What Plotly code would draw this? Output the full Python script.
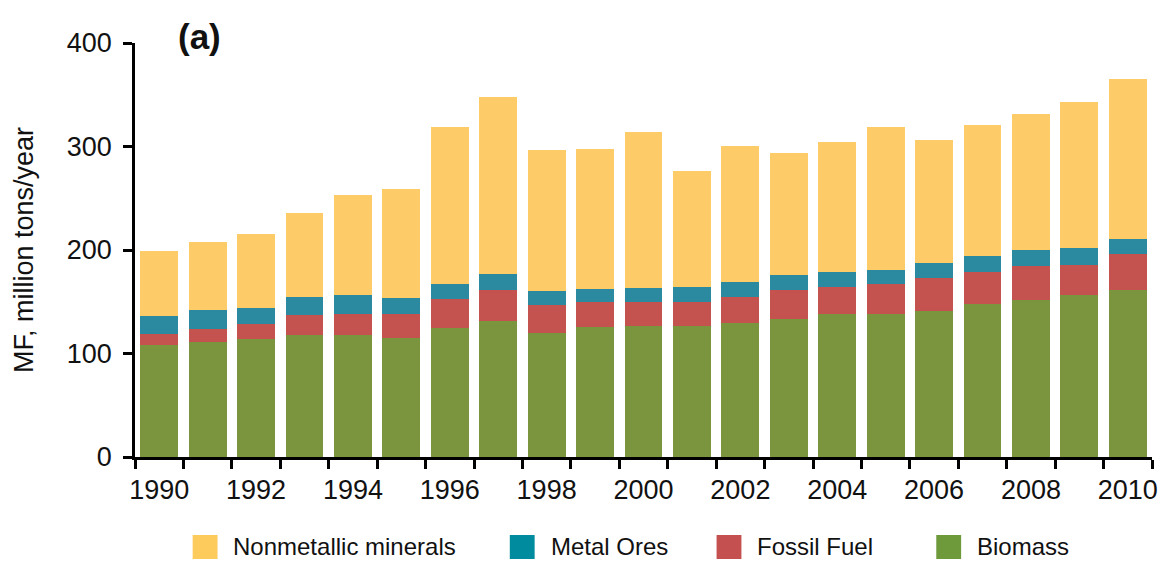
import plotly.graph_objects as go

years = [str(y) for y in range(1990, 2011)]
biomass = [108.3, 111.5, 114.1, 118.0, 118.0, 115.4, 125.0, 131.5, 119.9, 125.7, 126.7,
           126.7, 129.6, 133.4, 138.6, 138.6, 141.1, 148.2, 152.1, 156.6, 161.7]
fossil_fuel = [11.0, 12.3, 14.8, 19.3, 20.6, 23.2, 27.7, 29.9, 27.0, 24.4, 23.4,
               23.4, 25.1, 28.3, 25.7, 28.9, 32.2, 30.9, 32.8, 28.9, 34.7]
metal_ores = [17.0, 18.3, 15.1, 17.4, 18.0, 15.1, 14.5, 15.4, 13.5, 12.3, 13.2,
              14.2, 14.4, 14.2, 14.5, 13.2, 14.2, 15.1, 15.1, 16.4, 14.2]
nonmetallic = [62.7, 65.6, 71.4, 81.0, 96.5, 105.2, 151.5, 170.8, 136.1, 135.0, 150.5,
               111.9, 131.2, 117.7, 125.4, 138.0, 118.6, 126.4, 131.2, 140.9, 154.4]

tick_labels = [y if int(y) % 2 == 0 else "" for y in years]
y_ticks = [0, 100, 200, 300, 400]

FONT = "Liberation Sans, Arial, sans-serif"
W, H = 1165, 561
L, R, T, B = 135, 7, 43, 104

series = [
    ("Biomass", biomass, "#7A953D"),
    ("Fossil Fuel", fossil_fuel, "#C4534F"),
    ("Metal Ores", metal_ores, "#2B89A0"),
    ("Nonmetallic minerals", nonmetallic, "#FECB69"),
]

fig = go.Figure()
for name, vals, col in series:
    fig.add_trace(go.Bar(x=years, y=vals, name=name, marker=dict(color=col, line=dict(width=0)),
                         showlegend=False))

pw = W - L - R
ph = H - T - B


def px_x(px):
    return (px - L) / pw


def px_y(py):
    return (H - B - py) / ph


shapes = []
annotations = []
legend_items = [
    ("Nonmetallic minerals", "#FDCB5C", 193),
    ("Metal Ores", "#008B9F", 512),
    ("Fossil Fuel", "#C4514F", 720),
    ("Biomass", "#6F9A3B", 941),
]
for name, col, x0 in legend_items:
    shapes.append(dict(type="rect", xref="paper", yref="paper",
                       x0=px_x(x0), x1=px_x(x0 + 25), y0=px_y(559), y1=px_y(535),
                       fillcolor=col, line=dict(width=0)))
    annotations.append(dict(xref="paper", yref="paper", x=px_x(x0 + 40), y=px_y(546),
                            text=name, showarrow=False, xanchor="left", yanchor="middle",
                            borderpad=0,
                            font=dict(family=FONT, size=24, color="#111")))

annotations.append(dict(xref="paper", yref="paper", x=px_x(200), y=px_y(37), text="<b>(a)</b>",
                        showarrow=False, xanchor="center", yanchor="middle",
                        font=dict(family=FONT, size=35, color="#111")))

fig.update_layout(
    barmode="stack",
    bargap=0.22,
    width=W, height=H,
    margin=dict(l=L, r=R, t=T, b=B, pad=0),
    plot_bgcolor="white", paper_bgcolor="white",
    font=dict(family=FONT, size=27, color="#111"),
    showlegend=False,
    shapes=shapes,
    annotations=annotations,
    xaxis=dict(type="category", range=[-0.5, 20.5], tickmode="array", tickvals=years,
               ticktext=tick_labels, tickson="boundaries", ticks="outside", ticklen=9,
               tickwidth=2.5, tickcolor="black", showline=True, linecolor="black", linewidth=2.5,
               showgrid=False, zeroline=False, tickangle=0, ticklabelstandoff=7,
               tickfont=dict(family=FONT, size=27, color="#111")),
    yaxis=dict(range=[0, 400], tickvals=y_ticks, ticks="outside", ticklen=9, tickwidth=2.5,
               tickcolor="black", showline=True, linecolor="black", linewidth=2.5,
               showgrid=False, zeroline=False, ticklabelstandoff=6,
               tickfont=dict(family=FONT, size=27, color="#111"),
               title=dict(text="MF, million tons/year", standoff=26,
                          font=dict(family=FONT, size=27, color="#111"))),
)

fig.write_html("out.html")
